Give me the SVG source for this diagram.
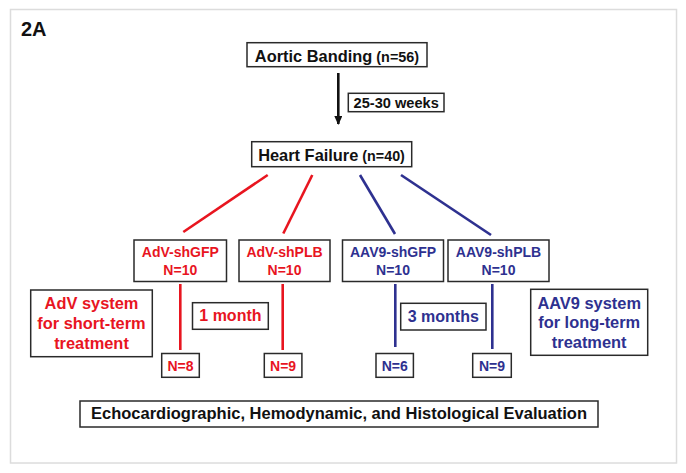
<svg xmlns="http://www.w3.org/2000/svg" width="686" height="473" viewBox="0 0 686 473">
<style>
text{font-family:"Liberation Sans",Arial,sans-serif;font-weight:bold;text-anchor:middle}
.box{fill:#fff;stroke:#2a2a2a;stroke-width:1.5}
.k{fill:#111}
.r{fill:#e8151f}
.b{fill:#2e3190}
.lr{stroke:#e8151f;stroke-width:2.6;fill:none}
.lb{stroke:#2e3190;stroke-width:2.6;fill:none}
.t16{font-size:16.4px}
.t14{font-size:14px}
.s14{font-size:14.3px}
</style>
<defs>
<marker id="ah" markerWidth="10" markerHeight="10" refX="8" refY="4" orient="auto" markerUnits="userSpaceOnUse">
<path d="M0,0 L9,4 L0,8 Z" fill="#111"/>
</marker>
</defs>
<rect x="0" y="0" width="686" height="473" fill="#fff"/>
<rect x="10.5" y="9.5" width="666" height="453.5" fill="#fff" stroke="#dcdcdc" stroke-width="1.5"/>
<text x="21" y="36" class="k" style="font-size:20px;text-anchor:start">2A</text>

<g id="connectors">
<line x1="338.3" y1="73" x2="338.3" y2="124" stroke="#111" stroke-width="2.6" marker-end="url(#ah)"/>
<line class="lr" x1="267.7" y1="175" x2="183.3" y2="232"/>
<line class="lr" x1="312.3" y1="175" x2="283.3" y2="233.5"/>
<line class="lb" x1="360" y1="175" x2="395" y2="234"/>
<line class="lb" x1="401" y1="175" x2="491" y2="235"/>
<line class="lr" x1="180.3" y1="284" x2="180.3" y2="350"/>
<line class="lr" x1="282.7" y1="284" x2="282.7" y2="350"/>
<line class="lb" x1="395.3" y1="284" x2="395.3" y2="347"/>
<line class="lb" x1="492.3" y1="284" x2="492.3" y2="349"/>
</g>

<g id="aortic-banding">
<rect class="box" x="247" y="42.7" width="180" height="24"/>
<text x="337" y="61.5" class="k"><tspan class="t16">Aortic Banding</tspan><tspan style="font-size:14.4px"> (n=56)</tspan></text>
</g>
<g id="weeks">
<rect class="box" x="348.3" y="93.3" width="95.7" height="18.4"/>
<text x="396.2" y="107.5" class="k" style="font-size:14.6px">25-30 weeks</text>
</g>
<g id="heart-failure">
<rect class="box" x="251.7" y="141.7" width="160" height="25"/>
<text x="331.5" y="160.7" class="k"><tspan class="t16">Heart Failure</tspan><tspan class="s14"> (n=40)</tspan></text>
</g>

<g id="adv-shgfp">
<rect class="box" x="134" y="240" width="92.5" height="41.5"/>
<text x="180.3" y="256.7" class="r t14">AdV-shGFP</text>
<text x="180.3" y="275" class="r t14">N=10</text>
</g>
<g id="adv-shplb">
<rect class="box" x="239" y="240" width="91" height="41.5"/>
<text x="284.5" y="256.7" class="r t14">AdV-shPLB</text>
<text x="284.5" y="275" class="r t14">N=10</text>
</g>
<g id="aav9-shgfp">
<rect class="box" x="342.5" y="240" width="101" height="41.5"/>
<text x="393" y="256.7" class="b t14">AAV9-shGFP</text>
<text x="393" y="275" class="b t14">N=10</text>
</g>
<g id="aav9-shplb">
<rect class="box" x="448" y="240" width="101" height="41.5"/>
<text x="498.5" y="256.7" class="b t14">AAV9-shPLB</text>
<text x="498.5" y="275" class="b t14">N=10</text>
</g>

<g id="adv-system">
<rect class="box" x="30.7" y="290" width="121.6" height="66.7"/>
<text x="91.5" y="309.3" class="r" style="font-size:16.4px">AdV system</text>
<text x="91.5" y="329" class="r" style="font-size:16.4px">for short-term</text>
<text x="91.5" y="348.5" class="r" style="font-size:16.4px">treatment</text>
</g>
<g id="aav9-system">
<rect class="box" x="530.7" y="289.3" width="117" height="66"/>
<text x="589.2" y="308.5" class="b" style="font-size:16.4px">AAV9 system</text>
<text x="589.2" y="328" class="b" style="font-size:16.4px">for long-term</text>
<text x="589.2" y="347.5" class="b" style="font-size:16.4px">treatment</text>
</g>

<g id="one-month">
<rect class="box" x="192.5" y="302.7" width="75.8" height="26.6"/>
<text x="230.4" y="321" class="r" style="font-size:16px">1 month</text>
</g>
<g id="three-months">
<rect class="box" x="400.7" y="303.3" width="85.3" height="26.7"/>
<text x="443.3" y="321.8" class="b" style="font-size:16px">3 months</text>
</g>

<g id="n8">
<rect class="box" x="161.7" y="353.5" width="37.6" height="23.8"/>
<text x="180.5" y="370.7" class="r t14">N=8</text>
</g>
<g id="n9-red">
<rect class="box" x="264.3" y="353.5" width="37.6" height="23.8"/>
<text x="283.1" y="370.7" class="r t14">N=9</text>
</g>
<g id="n6">
<rect class="box" x="376" y="353.5" width="37.4" height="23.8"/>
<text x="394.7" y="370.7" class="b t14">N=6</text>
</g>
<g id="n9-blue">
<rect class="box" x="472.7" y="353.5" width="38.6" height="23.8"/>
<text x="492" y="370.7" class="b t14">N=9</text>
</g>

<g id="evaluation">
<rect class="box" x="80" y="401" width="518" height="26"/>
<text x="339" y="418.8" class="k" style="font-size:16.5px">Echocardiographic, Hemodynamic, and Histological Evaluation</text>
</g>
</svg>
